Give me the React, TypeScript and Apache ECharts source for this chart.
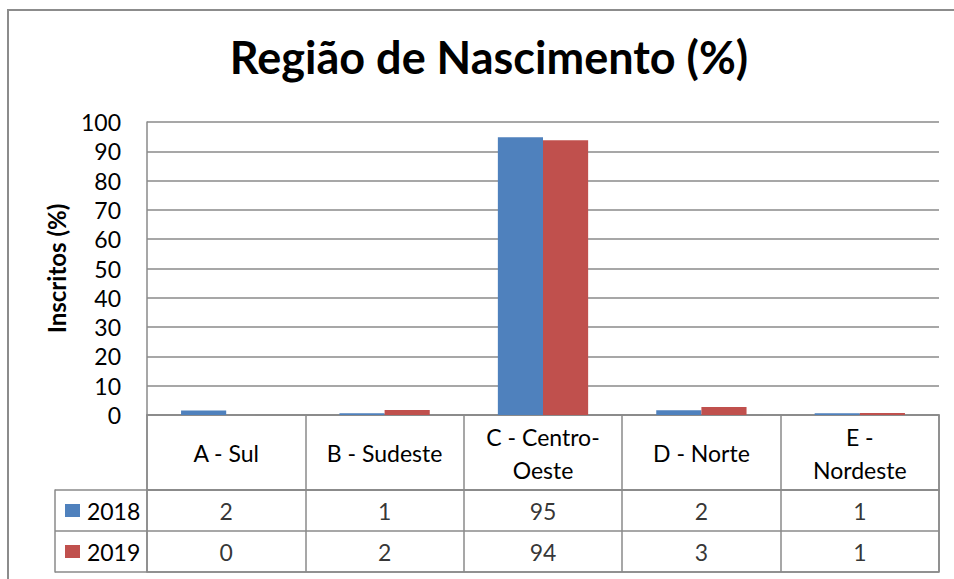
import React, { useEffect, useRef } from "react";
import * as echarts from "echarts";

const titleText = "Região de Nascimento (%)";
const yAxisName = "Inscritos (%)";
const categories = ["A - Sul", "B - Sudeste", "C - Centro-\nOeste", "D - Norte", "E -\nNordeste"];
const years = ["2018", "2019"];
const values2018 = [1.5, 0.6, 94.8, 1.6, 0.6];
const values2019 = [0, 1.7, 93.8, 2.7, 0.7];
const yTicks = { min: 0, max: 100, interval: 10 };

const FONT = "Lato, Carlito, Calibri, 'Liberation Sans', sans-serif";
const LINE = "#8a8a8a";
const BLUE = "#4F81BD";
const RED = "#C0504D";

export default function App() {
  const ref = useRef<HTMLDivElement>(null);

  useEffect(() => {
    document.body.style.margin = "0";
    if (!ref.current) return;
    const chart = echarts.init(ref.current, undefined, { renderer: "svg" });
    const seriesValues = [values2018, values2019];
    const colors = [BLUE, RED];

    const tableData: any[] = [];
    years.forEach((y, i) => {
      categories.forEach((c, j) => {
        tableData.push([c, y, seriesValues[i][j]]);
      });
    });

    const option: any = {
      animation: false,
      backgroundColor: "#fff",
      textStyle: { fontFamily: FONT },
      title: {
        text: titleText,
        left: 484,
        textAlign: "center",
        top: 29,
        textStyle: { fontFamily: FONT, fontSize: 45, fontWeight: "bold", color: "#000" },
      },
      grid: [
        { left: 147, top: 122, width: 792, height: 293, show: false },
        { left: 147, top: 415, width: 792, height: 75, show: true, borderColor: LINE, borderWidth: 1.5, backgroundColor: "transparent" },
        { left: 147, top: 490, width: 792, height: 82, show: true, borderColor: LINE, borderWidth: 1.5, backgroundColor: "transparent" },
      ],
      xAxis: [
        {
          type: "category",
          gridIndex: 0,
          data: categories,
          axisLine: { show: true, lineStyle: { color: LINE, width: 1.5 } },
          axisTick: { show: false },
          axisLabel: { show: false },
        },
        {
          type: "category",
          gridIndex: 1,
          data: categories,
          axisLine: { show: false },
          axisTick: { show: false },
          splitLine: { show: true, lineStyle: { color: LINE, width: 1.5 } },
          axisLabel: {
            show: true,
            inside: true,
            interval: 0,
            margin: 37,
            verticalAlign: "middle",
            fontSize: 23,
            lineHeight: 33,
            color: "#000",
            fontFamily: FONT,
          },
        },
        {
          type: "category",
          gridIndex: 2,
          data: categories,
          axisLine: { show: false },
          axisTick: { show: false },
          axisLabel: { show: false },
          splitLine: { show: true, lineStyle: { color: LINE, width: 1.5 } },
        },
      ],
      yAxis: [
        {
          type: "value",
          gridIndex: 0,
          min: yTicks.min,
          max: yTicks.max,
          interval: yTicks.interval,
          name: yAxisName,
          nameLocation: "middle",
          nameGap: 79,
          nameRotate: 90,
          nameTextStyle: { fontFamily: FONT, fontSize: 24, fontWeight: "bold", color: "#000" },
          axisLine: { show: true, lineStyle: { color: LINE, width: 1.5 } },
          axisTick: { show: false },
          splitLine: { show: true, lineStyle: { color: LINE, width: 1.5 } },
          axisLabel: { fontSize: 23, color: "#000", margin: 26, fontFamily: FONT },
        },
        {
          type: "value",
          gridIndex: 1,
          min: 0,
          max: 1,
          show: false,
        },
        {
          type: "category",
          gridIndex: 2,
          data: years,
          inverse: true,
          axisLine: { show: false },
          axisTick: { show: true, inside: false, length: 92, lineStyle: { color: LINE, width: 1.5 } },
          splitLine: { show: true, lineStyle: { color: LINE, width: 1.5 } },
          axisLabel: {
            show: true,
            align: "left",
            margin: 82,
            fontFamily: FONT,
            formatter: (v: string) => `{${v === "2018" ? "b" : "r"}|}{t| ${v}}`,
            rich: {
              b: { width: 15, height: 13, backgroundColor: BLUE },
              r: { width: 15, height: 13, backgroundColor: RED },
              t: { fontSize: 23, color: "#000", fontFamily: FONT, padding: [0, 0, 0, 1] },
            },
          },
        },
        {
          type: "category",
          gridIndex: 2,
          data: years,
          inverse: true,
          position: "left",
          offset: 92,
          axisLine: { show: true, lineStyle: { color: LINE, width: 1.5 } },
          axisTick: { show: false },
          axisLabel: { show: false },
          splitLine: { show: false },
        },
      ],
      series: [
        ...years.map((y, i) => ({
          name: y,
          type: "bar",
          xAxisIndex: 0,
          yAxisIndex: 0,
          data: seriesValues[i],
          barGap: "0%",
          barCategoryGap: "43%",
          itemStyle: { color: colors[i] },
        })),
        {
          type: "scatter",
          xAxisIndex: 2,
          yAxisIndex: 2,
          data: tableData,
          symbolSize: 1,
          itemStyle: { color: "rgba(0,0,0,0)" },
          label: {
            show: true,
            position: "inside",
            formatter: (p: any) => String(Math.round(p.value[2])),
            fontSize: 23,
            color: "#000",
            fontFamily: FONT,
          },
          silent: true,
        },
      ],
    };
    chart.setOption(option);
    return () => chart.dispose();
  }, []);

  return (
    <div style={{ position: "relative", width: 954, height: 579, overflow: "hidden", background: "#fff" }}>
      <div ref={ref} style={{ width: 954, height: 579 }} />
      <div
        style={{
          position: "absolute",
          left: 7,
          top: 9,
          width: 1000,
          height: 1000,
          borderTop: "2px solid #8c8c8c",
          borderLeft: "2px solid #8c8c8c",
          pointerEvents: "none",
        }}
      />
    </div>
  );
}
